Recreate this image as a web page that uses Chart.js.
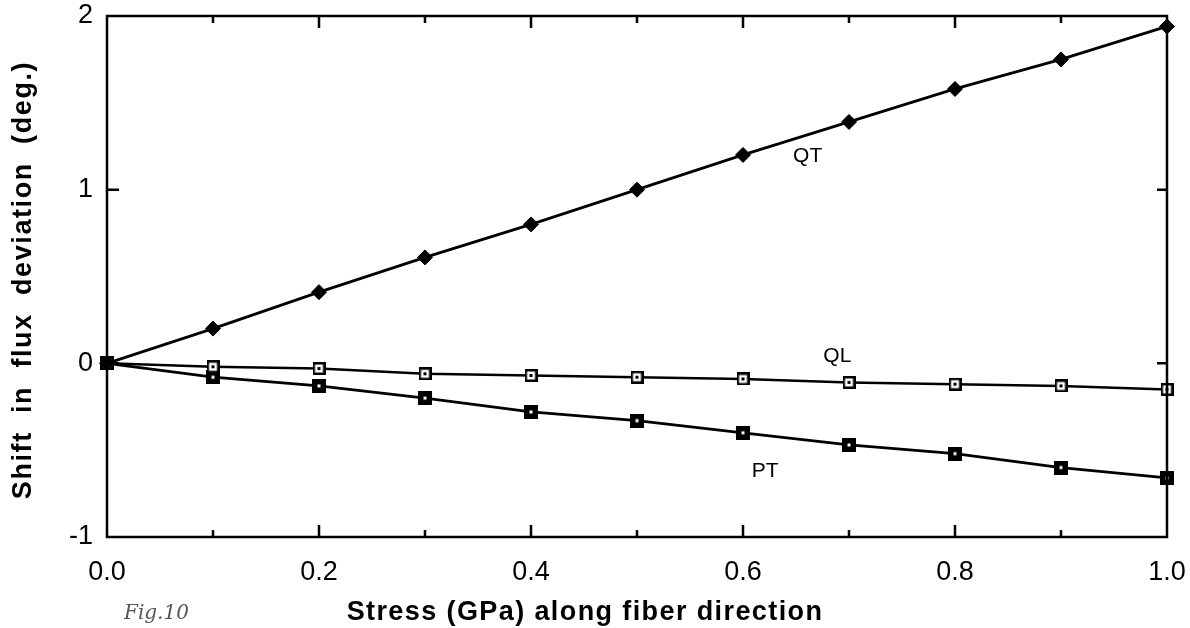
<!DOCTYPE html>
<html>
<head>
<meta charset="utf-8">
<script src="https://cdn.jsdelivr.net/npm/chart.js@4.4.1/dist/chart.umd.min.js"></script>
<style>
  html, body { margin: 0; padding: 0; background: #fff; }
  #wrap { width: 1190px; height: 628px; position: relative; }
</style>
</head>
<body>
<div id="wrap"><canvas id="chart" width="1190" height="628"></canvas></div>
<script>
// data
const stress = [0, 0.1, 0.2, 0.3, 0.4, 0.5, 0.6, 0.7, 0.8, 0.9, 1.0]
const qtShift = [0, 0.20, 0.41, 0.61, 0.80, 1.00, 1.20, 1.39, 1.58, 1.75, 1.94]
const qlShift = [0, -0.02, -0.03, -0.06, -0.07, -0.08, -0.09, -0.11, -0.12, -0.13, -0.15]
const ptShift = [0, -0.08, -0.13, -0.20, -0.28, -0.33, -0.40, -0.47, -0.52, -0.60, -0.66]
const xTicks = [0, 0.2, 0.4, 0.6, 0.8, 1.0]
const yTicks = [-1, 0, 1, 2]
const curveLabels = [
  { text: "QT", x: 0.661, y: 1.19 },
  { text: "QL", x: 0.689, y: 0.04 },
  { text: "PT", x: 0.621, y: -0.62 },
]

const FONT = "'Liberation Sans', Arial, Helvetica, sans-serif"

function toPoints(ys) {
  return stress.map((x, i) => ({ x: x, y: ys[i] }))
}

// square markers with a small dot in the middle
function squareMarker(size, filled) {
  const c = document.createElement("canvas")
  c.width = size
  c.height = size
  const g = c.getContext("2d")
  g.fillStyle = "#000"
  g.fillRect(0, 0, size, size)
  if (!filled) {
    g.fillStyle = "#fff"
    g.fillRect(2.5, 2.5, size - 5, size - 5)
    g.fillStyle = "#000"
  } else {
    g.fillStyle = "#fff"
  }
  g.fillRect(size / 2 - 1.5, size / 2 - 1.5, 3, 3)
  return c
}

const ptMarker = squareMarker(14, true)
const qlMarker = squareMarker(13, false)

const framePlugin = {
  id: "frame",
  afterDraw(chart) {
    const ctx = chart.ctx
    const a = chart.chartArea
    const xs = chart.scales.x
    const ys = chart.scales.y
    ctx.save()
    ctx.strokeStyle = "#000"
    ctx.lineWidth = 2.5
    ctx.strokeRect(a.left, a.top, a.right - a.left, a.bottom - a.top)

    // inward ticks: major every 0.2, minor every 0.1
    for (let i = 1; i < 10; i++) {
      const px = xs.getPixelForValue(i / 10)
      const len = i % 2 === 0 ? 12 : 7
      ctx.beginPath()
      ctx.moveTo(px, a.bottom)
      ctx.lineTo(px, a.bottom - len)
      ctx.moveTo(px, a.top)
      ctx.lineTo(px, a.top + len)
      ctx.stroke()
    }
    yTicks.forEach((v) => {
      if (v === -1 || v === 2) return
      const py = ys.getPixelForValue(v)
      ctx.beginPath()
      ctx.moveTo(a.left, py)
      ctx.lineTo(a.left + 12, py)
      ctx.moveTo(a.right, py)
      ctx.lineTo(a.right - 10, py)
      ctx.stroke()
    })

    // curve labels
    ctx.fillStyle = "#000"
    ctx.font = "21px " + FONT
    ctx.textAlign = "center"
    ctx.textBaseline = "middle"
    curveLabels.forEach((l) => {
      ctx.fillText(l.text, xs.getPixelForValue(l.x), ys.getPixelForValue(l.y))
    })

    // axis titles
    ctx.font = "bold 27px " + FONT
    ctx.letterSpacing = "1.4px"
    ctx.fillText("Stress (GPa) along fiber direction", 585, 613)
    ctx.save()
    ctx.translate(24, 280)
    ctx.rotate(-Math.PI / 2)
    ctx.letterSpacing = "1.6px"
    ctx.fillText("Shift  in  flux  deviation  (deg.)", 0, 0)
    ctx.restore()
    ctx.letterSpacing = "0px"

    // handwritten note in the corner
    ctx.fillStyle = "#555"
    ctx.font = "italic 20px 'DejaVu Serif', serif"
    ctx.textAlign = "left"
    ctx.fillText("Fig.10", 124, 614)
    ctx.restore()
  },
}

new Chart(document.getElementById("chart"), {
  type: "line",
  data: {
    datasets: [
      {
        label: "QT",
        data: toPoints(qtShift),
        borderColor: "#000",
        borderWidth: 2.8,
        pointStyle: "rectRot",
        pointRadius: 7.5,
        pointBackgroundColor: "#000",
        pointBorderColor: "#000",
        pointBorderWidth: 1,
        clip: false,
      },
      {
        label: "QL",
        data: toPoints(qlShift),
        borderColor: "#000",
        borderWidth: 2.5,
        pointStyle: qlMarker,
        clip: false,
      },
      {
        label: "PT",
        data: toPoints(ptShift),
        borderColor: "#000",
        borderWidth: 2.8,
        pointStyle: ptMarker,
        clip: false,
      },
    ],
  },
  options: {
    responsive: false,
    animation: false,
    layout: { padding: { left: 0, top: 16, right: 23, bottom: 0 } },
    plugins: {
      legend: { display: false },
      tooltip: { enabled: false },
    },
    scales: {
      x: {
        type: "linear",
        min: 0,
        max: 1,
        afterBuildTicks: (scale) => {
          scale.ticks = xTicks.map((v) => ({ value: v }))
        },
        afterFit: (scale) => {
          scale.height = 91
          scale.paddingLeft = 0
          scale.paddingRight = 0
        },
        grid: { display: false, drawTicks: false },
        border: { display: false },
        ticks: {
          padding: 19,
          color: "#000",
          font: { family: FONT, size: 27 },
          callback: (v) => Number(v).toFixed(1),
        },
      },
      y: {
        type: "linear",
        min: -1,
        max: 2,
        afterBuildTicks: (scale) => {
          scale.ticks = yTicks.map((v) => ({ value: v }))
        },
        afterFit: (scale) => {
          scale.width = 107
          scale.paddingTop = 0
          scale.paddingBottom = 0
        },
        grid: { display: false, drawTicks: false },
        border: { display: false },
        ticks: {
          padding: 14,
          color: "#000",
          font: { family: FONT, size: 27 },
          callback: (v) => String(v),
        },
      },
    },
  },
  plugins: [framePlugin],
})
</script>
</body>
</html>
